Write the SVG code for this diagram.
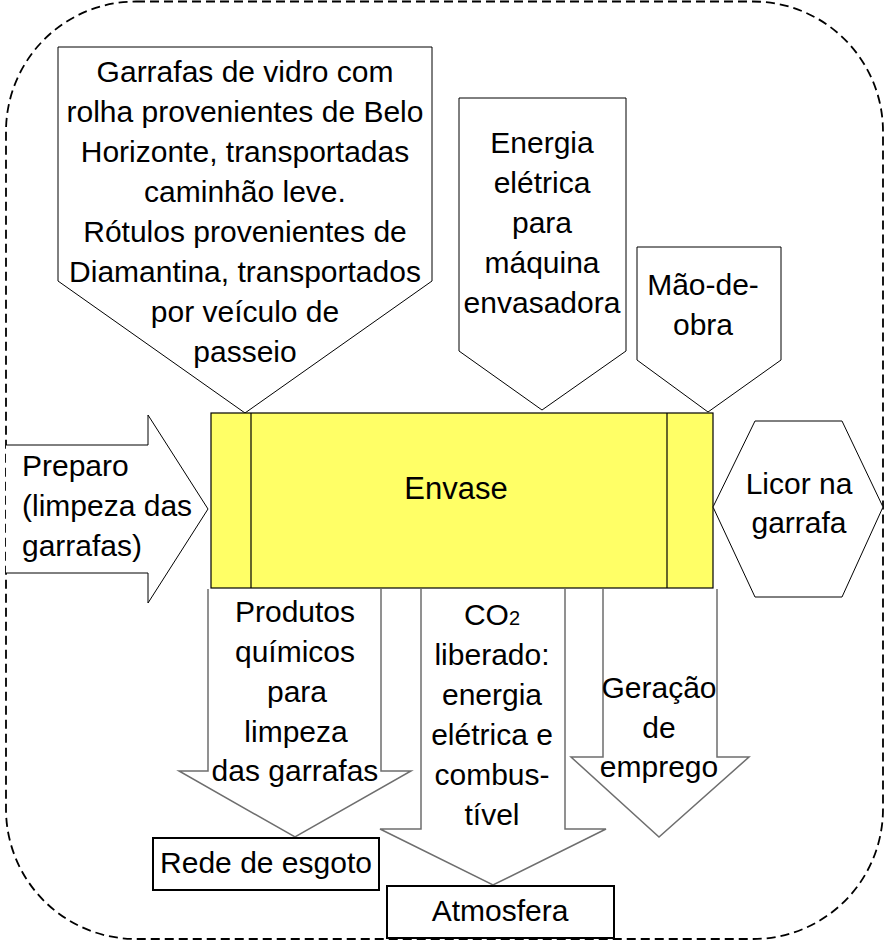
<svg xmlns="http://www.w3.org/2000/svg" width="892" height="950" viewBox="0 0 892 950">
<style>
text{font-family:"Liberation Sans",Arial,sans-serif;font-size:30px;fill:#000}
.c{text-anchor:middle}
.top{fill:#fff;stroke:#000;stroke-width:1}
.out{fill:#fff;stroke:#6e6e6e;stroke-width:1.5}
.box{fill:#fff;stroke:#000;stroke-width:2}
</style>
<rect id="boundary" x="6" y="1.5" width="877" height="937.5" rx="130" ry="130" fill="none" stroke="#000" stroke-width="1.8" stroke-dasharray="9 5"/>

<g id="garrafas">
<polygon class="top" points="58,47 432,47 432,281 245,413 58,281"/>
<text class="c" x="245" y="82">Garrafas de vidro com</text>
<text class="c" x="245" y="122">rolha provenientes de Belo</text>
<text class="c" x="245" y="162">Horizonte, transportadas</text>
<text class="c" x="245" y="202">caminhão leve.</text>
<text class="c" x="245" y="242">Rótulos provenientes de</text>
<text class="c" x="245" y="282">Diamantina, transportados</text>
<text class="c" x="245" y="322">por veículo de</text>
<text class="c" x="245" y="362">passeio</text>
</g>

<g id="energia">
<polygon class="top" points="459,98 626,98 626,351 542,410 459,351"/>
<text class="c" x="542" y="153">Energia</text>
<text class="c" x="542" y="193">elétrica</text>
<text class="c" x="542" y="233">para</text>
<text class="c" x="542" y="273">máquina</text>
<text class="c" x="542" y="313">envasadora</text>
</g>

<g id="maodeobra">
<polygon class="top" points="637,247 781,247 781,360 708,412 637,360"/>
<text class="c" x="703" y="295">Mão-de-</text>
<text class="c" x="703" y="335">obra</text>
</g>

<g id="envase">
<rect x="211" y="413" width="502" height="175" fill="#ffff66" stroke="#000" stroke-width="1.2"/>
<line x1="251" y1="413" x2="251" y2="588" stroke="#000" stroke-width="1.2"/>
<line x1="667" y1="413" x2="667" y2="588" stroke="#000" stroke-width="1.2"/>
<text class="c" x="456" y="499" style="font-size:31px">Envase</text>
</g>

<g id="preparo">
<path d="M6,445 H148 V415 L208,509 L148,603 V573 H6" fill="#fff" stroke="#000" stroke-width="1"/>
<text x="22" y="476">Preparo</text>
<text x="22" y="516">(limpeza das</text>
<text x="22" y="556">garrafas)</text>
</g>

<g id="licor">
<polygon class="top" points="713,507 755,421 842,421 883,507 842,597 755,597"/>
<text class="c" x="799" y="494">Licor na</text>
<text class="c" x="799" y="533">garrafa</text>
</g>

<g id="produtos">
<path class="out" d="M208,589 V771 H179 L295,837 L411,771 H381 V589"/>
<text class="c" x="295" y="622">Produtos</text>
<text class="c" x="295" y="662">químicos</text>
<text class="c" x="297" y="702">para</text>
<text class="c" x="296" y="742">limpeza</text>
<text class="c" x="295" y="781">das garrafas</text>
</g>

<g id="co2">
<path class="out" d="M421,589 V829 H380 L493,885 L606,829 H565 V589"/>
<text class="c" x="492" y="625">CO<tspan style="font-size:20px">2</tspan></text>
<text class="c" x="492" y="665">liberado:</text>
<text class="c" x="492" y="705">energia</text>
<text class="c" x="492" y="745">elétrica e</text>
<text class="c" x="492" y="785">combus-</text>
<text class="c" x="492" y="825">tível</text>
</g>

<g id="geracao">
<path class="out" d="M603,589 V757 H571 L659,837 L749,757 H717 V589"/>
<text class="c" x="659" y="698">Geração</text>
<text class="c" x="659" y="738">de</text>
<text class="c" x="659" y="777">emprego</text>
</g>

<g id="rede">
<rect class="box" x="153" y="838" width="226" height="52"/>
<text class="c" x="266" y="873">Rede de esgoto</text>
</g>

<g id="atmosfera">
<rect class="box" x="387" y="886" width="227" height="52"/>
<text class="c" x="500" y="921">Atmosfera</text>
</g>
</svg>
